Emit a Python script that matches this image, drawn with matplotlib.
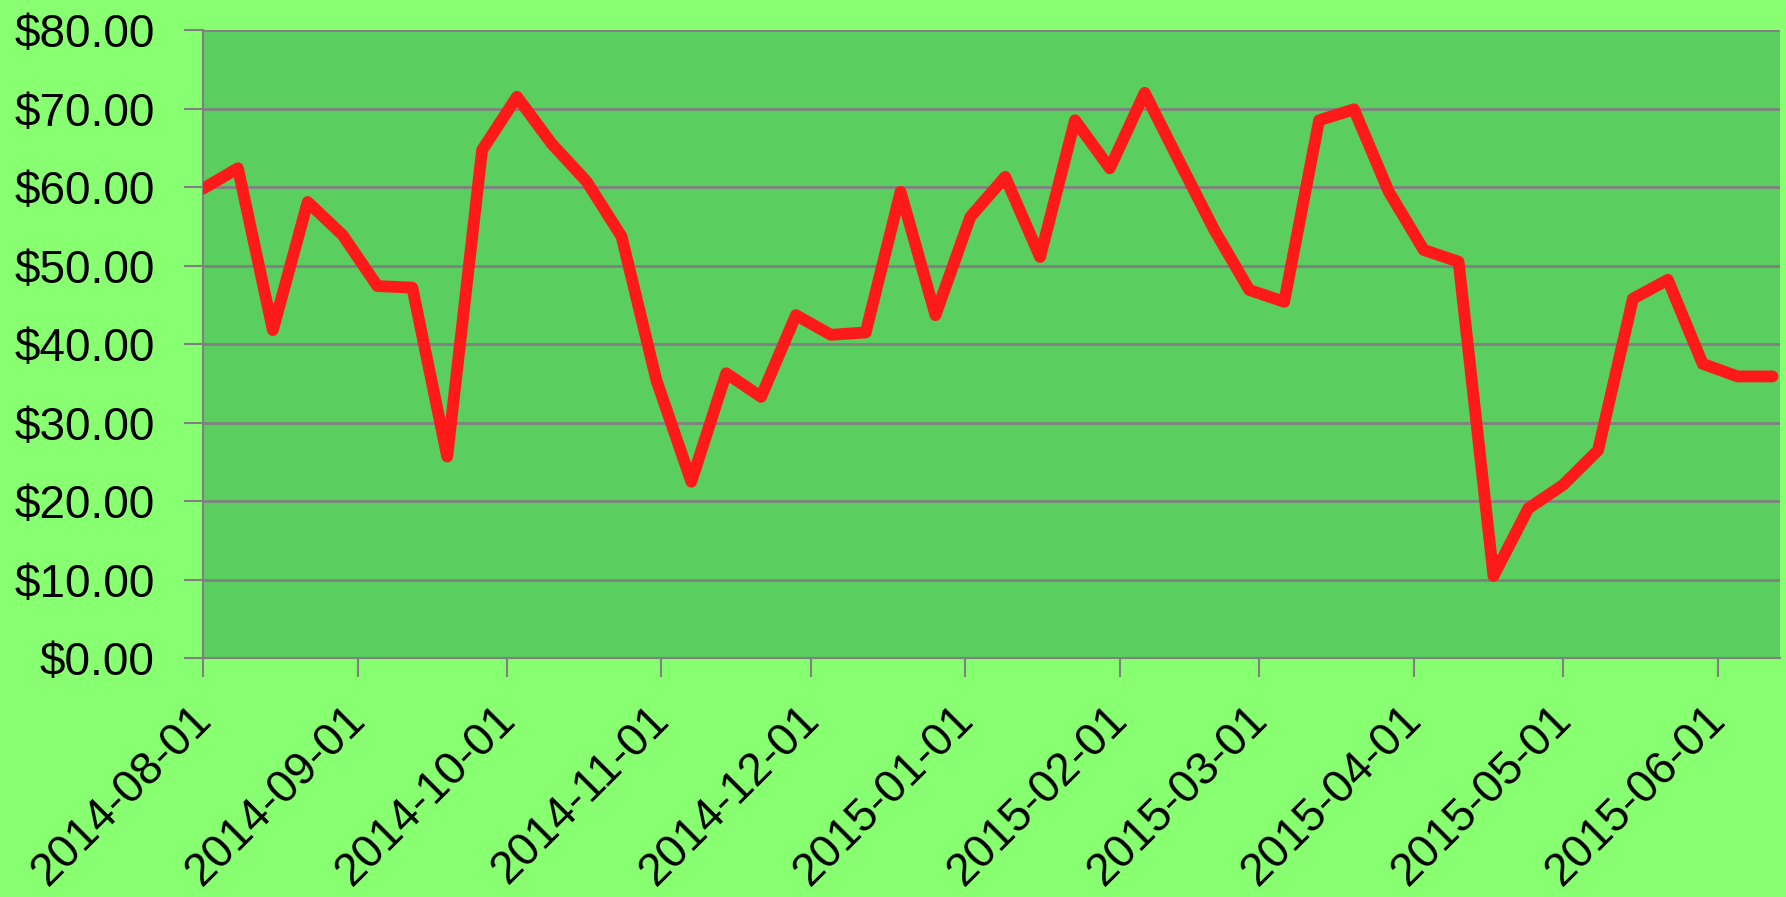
import matplotlib
matplotlib.use('Agg')
import matplotlib.pyplot as plt
import matplotlib.dates as mdates
import matplotlib.ticker as mticker
import matplotlib.transforms as mtrans
import numpy as np
import pandas as pd

# Data ====================================
dates = pd.date_range('2014-08-01', '2015-06-12', freq='7D')  # weekly, Fridays
prices = [59.8, 62.4, 41.8, 58.1, 53.9, 47.4, 47.2, 25.7, 64.7, 71.5,
          65.5, 60.7, 53.7, 35.4, 22.5, 36.3, 33.3, 43.7, 41.2, 41.5,
          59.4, 43.7, 56.2, 61.3, 51.1, 68.5, 62.4, 72.0, 63.2, 54.5,
          46.9, 45.4, 68.5, 69.9, 59.4, 52.0, 50.5, 10.5, 19.1, 22.1,
          26.5, 45.8, 48.2, 37.5, 35.9, 35.9]
tick_dates = pd.date_range('2014-08-01', '2015-06-01', freq='MS')

# Style ===================================
bg = '#88ff70'
plot_bg = '#5ace5e'
line_col = '#ff1a1a'
grid_col = '#808080'

plt.rcParams['font.family'] = ['Liberation Sans', 'DejaVu Sans']

fig = plt.figure(figsize=(17.86, 8.97), dpi=100, facecolor=bg)
ax = fig.add_axes([0.1137, 0.2659, 0.8829, 0.7007])
ax.set_facecolor(plot_bg)

ax.plot(dates, prices, color=line_col, lw=8.5, solid_capstyle='round',
        solid_joinstyle='round', zorder=3)

# Axes limits and ticks
ax.set_ylim(0, 80)
ax.set_yticks(np.arange(0, 81, 10))
ax.yaxis.set_major_formatter(mticker.FuncFormatter(lambda v, p: '${:.2f}'.format(v)))
ax.set_xlim(pd.Timestamp('2014-08-01'), pd.Timestamp('2015-06-13 12:00'))
ax.set_xticks(tick_dates)
ax.xaxis.set_major_formatter(mdates.DateFormatter('%Y-%m-%d'))

ax.grid(axis='y', color=grid_col, lw=2, zorder=1)
ax.set_axisbelow(True)
for s in ['top', 'right']:
    ax.spines[s].set_visible(False)
for s in ['left', 'bottom']:
    ax.spines[s].set_color(grid_col)
    ax.spines[s].set_linewidth(1.5)

ax.tick_params(axis='both', colors=grid_col, length=14, width=1.5,
               labelcolor='black', labelsize=33)
ax.tick_params(axis='y', pad=21)
ax.tick_params(axis='x', pad=14)

# rotated date labels, nudged a little left of their ticks
shift = mtrans.ScaledTranslation(-0.14, 0, fig.dpi_scale_trans)
for lab in ax.get_xticklabels():
    lab.set_rotation(45)
    lab.set_ha('right')
    lab.set_rotation_mode('anchor')
    lab.set_transform(lab.get_transform() + shift)

fig.savefig('out.png', dpi=100, facecolor=bg)
plt.close()
